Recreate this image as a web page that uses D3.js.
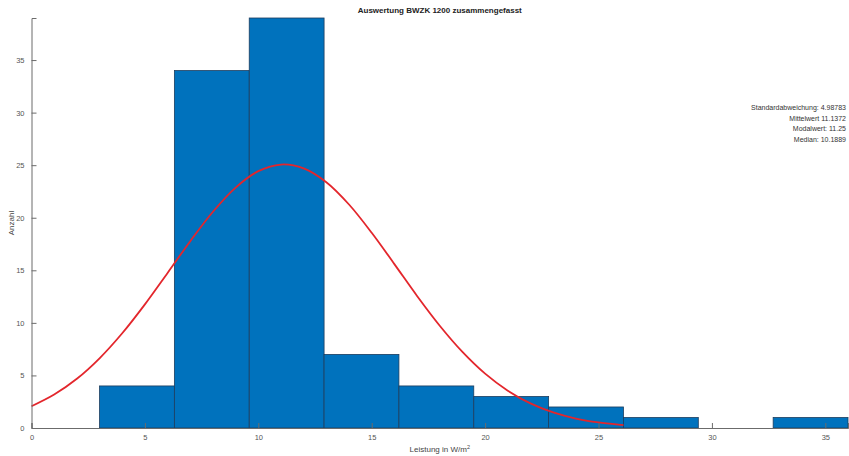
<!DOCTYPE html>
<html>
<head>
<meta charset="utf-8">
<script src="https://cdn.jsdelivr.net/npm/d3@7"></script>
<style>
  body { margin: 0; background: #fff; }
  text { font-family: "Liberation Sans", Arial, sans-serif; }
</style>
</head>
<body>
<div id="chart"></div>
<script>
// histogram bins (W/m^2) and counts
var binEdges = [3.0, 6.3, 9.6, 12.9, 16.2, 19.5, 22.8, 26.1, 29.4, 32.7, 36.0];
var counts = [4, 34, 39, 7, 4, 3, 2, 1, 0, 1];

// fitted normal curve
var curveX = [0, 1, 2, 3, 4, 5, 6, 7, 8, 9, 10, 11, 12, 13, 14, 15, 16, 17, 18, 19, 20, 21, 22, 23, 24, 25, 26, 26.1];
var curveY = [2.07, 3.18, 4.68, 6.63, 9.01, 11.76, 14.75, 17.77, 20.57, 22.87, 24.43, 25.06, 24.70, 23.38, 21.26, 18.57, 15.59, 12.56, 9.73, 7.24, 5.17, 3.55, 2.34, 1.48, 0.90, 0.53, 0.30, 0.28];

var xTicks = [0, 5, 10, 15, 20, 25, 30, 35];
var yTicks = [0, 5, 10, 15, 20, 25, 30, 35];
var stats = ["Standardabweichung: 4.98783", "Mittelwert 11.1372", "Modalwert: 11.25", "Median: 10.1889"];

var W = 849, H = 456;
var mLeft = 31.5, mRight = 1, mTop = 18, mBot = 28;
var width = W - mLeft - mRight;
var height = H - mTop - mBot;

var svg = d3.select("#chart").append("svg")
    .attr("width", W)
    .attr("height", H);

var g = svg.append("g")
    .attr("transform", "translate(" + mLeft + "," + mTop + ")");

var x = d3.scaleLinear().domain([0, 36]).range([0, width]);
var y = d3.scaleLinear().domain([0, 39]).range([height, 0]);

var bins = counts.map(function(c, i) { return {x0: binEdges[i], x1: binEdges[i + 1], n: c}; });

g.selectAll(".bar")
    .data(bins.filter(function(d) { return d.n > 0; }))
    .enter().append("rect")
    .attr("class", "bar")
    .attr("x", function(d) { return x(d.x0); })
    .attr("y", function(d) { return y(d.n); })
    .attr("width", function(d) { return x(d.x1) - x(d.x0); })
    .attr("height", function(d) { return y(0) - y(d.n); })
    .style("fill", "#0072bd")
    .style("stroke", "#1d3d5e")
    .style("stroke-width", 0.8);

var line = d3.line()
    .x(function(d, i) { return x(curveX[i]); })
    .y(function(d) { return y(d); })
    .curve(d3.curveCatmullRom);

g.append("path")
    .datum(curveY)
    .attr("d", line)
    .style("fill", "none")
    .style("stroke", "#e3262c")
    .style("stroke-width", 1.8);

// axes, ticks pointing inward like MATLAB
var xAxis = d3.axisBottom(x).tickValues(xTicks).tickSize(-5).tickPadding(7);
var yAxis = d3.axisLeft(y).tickValues(yTicks).tickSize(-5).tickPadding(7);

var gx = g.append("g")
    .attr("transform", "translate(0," + height + ")")
    .call(xAxis);
var gy = g.append("g").call(yAxis);

[gx, gy].forEach(function(a) {
    a.select(".domain").attr("stroke", "#6b6b6b").attr("stroke-width", 1);
    a.selectAll(".tick line").attr("stroke", "#6b6b6b");
    a.selectAll(".tick text").attr("fill", "#555").style("font-size", "7.5px");
});

// title
svg.append("text")
    .attr("x", mLeft + width / 2)
    .attr("y", 13)
    .attr("text-anchor", "middle")
    .style("font-size", "8px")
    .style("font-weight", "bold")
    .attr("fill", "#222")
    .text("Auswertung BWZK 1200 zusammengefasst");

// axis labels
var xl = svg.append("text")
    .attr("x", mLeft + width / 2)
    .attr("y", 452)
    .attr("text-anchor", "middle")
    .style("font-size", "8px")
    .attr("fill", "#444")
    .text("Leistung in W/m");
xl.append("tspan").attr("dy", -3).style("font-size", "5.5px").text("2");

svg.append("text")
    .attr("transform", "translate(14," + (mTop + height / 2) + ") rotate(-90)")
    .attr("text-anchor", "middle")
    .style("font-size", "8px")
    .attr("fill", "#444")
    .text("Anzahl");

// stats box
svg.append("g").selectAll("text")
    .data(stats)
    .enter().append("text")
    .attr("x", 846)
    .attr("y", function(d, i) { return 110 + i * 10.6; })
    .attr("text-anchor", "end")
    .style("font-size", "7px")
    .attr("fill", "#333")
    .text(function(d) { return d; });
</script>
</body>
</html>
